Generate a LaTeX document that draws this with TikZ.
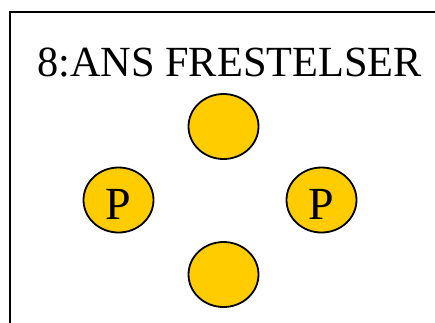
\documentclass[tikz,border=0pt]{standalone}
\usepackage{fontspec}
\setmainfont{Liberation Serif}
\usetikzlibrary{shapes.geometric}
\definecolor{disc}{HTML}{FFCC00}
\tikzset{
  piece/.style={ellipse, draw=black, line width=1.8pt, fill=disc, minimum width=70pt, minimum height=65pt, inner sep=0pt, text height=38.5pt, text depth=0pt, font=\fontsize{46}{46}\selectfont},
  title/.style={anchor=base, inner sep=0pt, xscale=0.985, font=\fontsize{43}{43}\selectfont}
}
\begin{document}
\begin{tikzpicture}[x=1pt,y=-1pt]
\useasboundingbox (0,0) rectangle (435,322);
\clip (0,0) rectangle (435,322);
\fill[white] (0,0) rectangle (435,322);
\draw[line width=1.8pt] (10,340) -- (10,12) -- (450,12);
\node[title] (t) at (229.5,76) {8:ANS FRESTELSER};
\node[piece] (top) at (223.5,126.5) {};
\node[piece] (left) at (118.5,200) {P};
\node[piece] (right) at (321.5,200) {P};
\node[piece] (bottom) at (223.5,274.5) {};
\end{tikzpicture}
\end{document}
